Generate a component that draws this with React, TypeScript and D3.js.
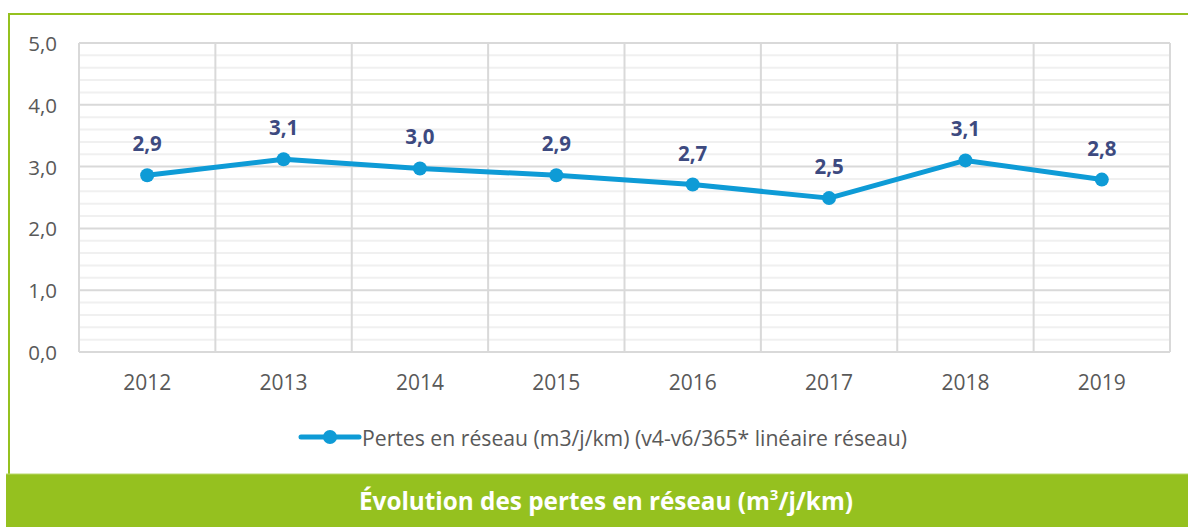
import React from "react";
import * as d3 from "d3";

const years = ["2012", "2013", "2014", "2015", "2016", "2017", "2018", "2019"];
const losses = [2.86, 3.12, 2.97, 2.86, 2.71, 2.49, 3.1, 2.79];
const lossLabels = ["2,9", "3,1", "3,0", "2,9", "2,7", "2,5", "3,1", "2,8"];
const yTicks = [0, 1, 2, 3, 4, 5];
const legendText = "Pertes en réseau (m3/j/km) (v4-v6/365* linéaire réseau)";

const W = 1188;
const H = 527;
const FONT = "'Open Sans', Lato, sans-serif";
const GREEN = "#95c11f";
const BLUE = "#0e9bd6";

export default function App() {
  const left = 79, right = 1170, top = 43, bottom = 352;
  const x = d3.scaleBand<string>().domain(years).range([left, right]).padding(0);
  const y = d3.scaleLinear().domain([0, 5]).range([bottom, top]);
  const minor = d3.range(0, 5.0001, 0.2).filter((v) => Math.abs(v - Math.round(v)) > 1e-6);
  const cx = (yr: string) => (x(yr) as number) + x.bandwidth() / 2;
  const line = d3
    .line<number>()
    .x((_, i) => cx(years[i]))
    .y((d) => y(d));

  return (
    <svg
      width={W}
      height={H}
      style={{ position: "absolute", left: 0, top: 0, background: "#fff" }}
      fontFamily={FONT}
    >
      {/* frame */}
      <line x1={9} x2={W} y1={14} y2={14} stroke={GREEN} strokeWidth={2} />
      <line x1={9} x2={9} y1={13} y2={474} stroke={GREEN} strokeWidth={2} />

      {/* minor gridlines */}
      {minor.map((v) => (
        <line key={"m" + v} x1={left} x2={right} y1={y(v)} y2={y(v)} stroke="#f0f0f0" strokeWidth={2} />
      ))}
      {/* major gridlines */}
      {yTicks.map((v) => (
        <line key={"M" + v} x1={left} x2={right} y1={y(v)} y2={y(v)} stroke="#d9d9d9" strokeWidth={2} />
      ))}
      {/* vertical category lines */}
      {years.map((yr) => (
        <line key={"v" + yr} x1={x(yr)} x2={x(yr)} y1={top} y2={bottom} stroke="#d9d9d9" strokeWidth={2} />
      ))}
      <line x1={right} x2={right} y1={top} y2={bottom} stroke="#d9d9d9" strokeWidth={2} />

      {/* y tick labels */}
      {yTicks.map((v) => (
        <text
          key={"yt" + v}
          x={57}
          y={y(v)}
          textAnchor="end"
          dominantBaseline="central"
          fontSize={20.5}
          fill="#595959"
        >
          {v.toFixed(1).replace(".", ",")}
        </text>
      ))}
      {/* x tick labels */}
      {years.map((yr) => (
        <text key={"xt" + yr} x={cx(yr)} y={382} textAnchor="middle" dominantBaseline="central" fontSize={21} fill="#595959">
          {yr}
        </text>
      ))}

      {/* series */}
      <path d={line(losses) || ""} fill="none" stroke={BLUE} strokeWidth={5} strokeLinejoin="round" />
      {losses.map((v, i) => (
        <circle key={"c" + i} cx={cx(years[i])} cy={y(v)} r={7} fill={BLUE} />
      ))}
      {losses.map((v, i) => (
        <text
          key={"l" + i}
          x={cx(years[i])}
          y={y(v) - 32}
          textAnchor="middle"
          dominantBaseline="central"
          fontSize={20.5}
          fontWeight="bold"
          fill="#3d4a80"
        >
          {lossLabels[i]}
        </text>
      ))}

      {/* legend */}
      <line x1={301} x2={359} y1={437} y2={437} stroke={BLUE} strokeWidth={5} strokeLinecap="round" />
      <circle cx={330} cy={437} r={7} fill={BLUE} />
      <text x={362} y={437} dominantBaseline="central" fontSize={21.2} fill="#595959">
        {legendText}
      </text>

      {/* title bar */}
      <rect x={6} y={474} width={W - 6} height={H - 474} fill={GREEN} />
      <line x1={6} x2={W} y1={474} y2={474} stroke="#b9d86a" strokeWidth={1} />
      <text x={606} y={500} textAnchor="middle" dominantBaseline="central" fontSize={24.3} fontWeight="bold" fill="#fff">
        Évolution des pertes en réseau (m<tspan baselineShift={6} fontSize={15}>3</tspan>/j/km)
      </text>
    </svg>
  );
}
